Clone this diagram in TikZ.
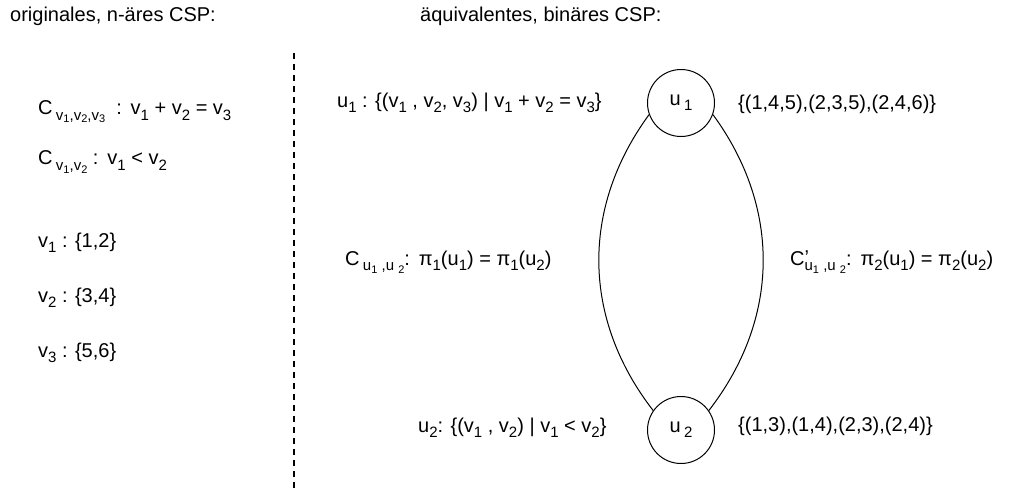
\documentclass[tikz,border=0pt]{standalone}
\usepackage{fontspec}
\setmainfont{Liberation Sans}
\newcommand\sbx[1]{\raisebox{-0.5ex}{\fontsize{15}{15}\selectfont #1}}
\newcommand\ssbx[1]{\raisebox{-0.35ex}{\fontsize{11}{11}\selectfont #1}}
\begin{document}
\begin{tikzpicture}[x=1pt,y=-1pt,
  txt/.style={anchor=west,inner sep=0pt,font=\fontsize{20}{24}\selectfont},
  var/.style={circle,draw,line width=1pt,minimum size=67pt,inner sep=0pt,font=\fontsize{20}{24}\selectfont},
  edge/.style={line width=1pt}]
\useasboundingbox (0,0) rectangle (1009,491);
\node[txt] (t1) at (10,16) {originales, n-äres CSP:};
\node[txt] (t2) at (420,16) {äquivalentes, binäres CSP:};
\coordinate (dtop) at (294,53);
\coordinate (dbot) at (294,491);
\draw[line width=1.2pt,dash pattern=on 6pt off 5pt] (dtop) -- (dbot);
\node[txt] (c123) at (38,112) {C\,\sbx{v\ssbx{1},v\ssbx{2},v\ssbx{3}}\ \ :\ \,v\sbx{1} + v\sbx{2} = v\sbx{3}};
\node[txt] (c12) at (38,162) {C\,\sbx{v\ssbx{1},v\ssbx{2}}\ :\ \,v\sbx{1} < v\sbx{2}};
\node[txt] (d1) at (38,243) {v\sbx{1} : \{1,2\}};
\node[txt] (d2) at (38,298) {v\sbx{2} : \{3,4\}};
\node[txt] (d3) at (38,353) {v\sbx{3} : \{5,6\}};
\node[var] (u1) at (681,103) {u\,\sbx{1}};
\node[var] (u2) at (681,430) {u\,\sbx{2}};
\draw[edge] (u1.200) to[bend right=37] (u2.145);
\draw[edge] (u1.340) to[bend left=37] (u2.35);
\node[txt] (l1) at (337,103) {u\sbx{1} : \{(v\sbx{1} , v\sbx{2}, v\sbx{3}) | v\sbx{1} + v\sbx{2} = v\sbx{3}\}};
\node[txt] (r1) at (738,104) {\{(1,4,5),(2,3,5),(2,4,6)\}};
\node[txt] (cl) at (345,262) {C\,\sbx{u\ssbx{1} ,u \ssbx{2}}:\ \,π\sbx{1}(u\sbx{1}) = π\sbx{1}(u\sbx{2})};
\node[txt] (cr) at (790,262) {C\rlap{\raisebox{0.1ex}{’}}\sbx{u\ssbx{1} ,u \ssbx{2}}:\ \,π\sbx{2}(u\sbx{1}) = π\sbx{2}(u\sbx{2})};
\node[txt] (l2) at (418,428) {u\sbx{2}: \{(v\sbx{1} , v\sbx{2}) | v\sbx{1} < v\sbx{2}\}};
\node[txt] (r2) at (738,426) {\{(1,3),(1,4),(2,3),(2,4)\}};
\end{tikzpicture}
\end{document}
